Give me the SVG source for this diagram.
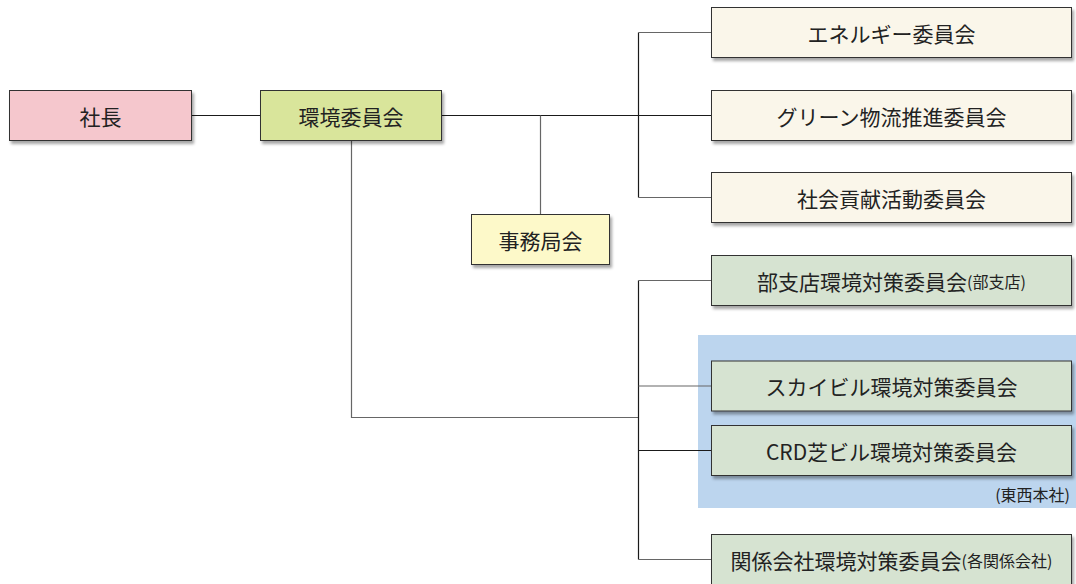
<svg xmlns="http://www.w3.org/2000/svg" width="1076" height="584" viewBox="0 0 1076 584">
<defs>
<filter id="sh" x="-10%" y="-20%" width="130%" height="160%">
<feDropShadow dx="2" dy="3" stdDeviation="1.6" flood-color="#000" flood-opacity="0.35"/>
</filter>
<style>
.box{stroke:#333;stroke-width:1;filter:url(#sh)}
.t{font-family:"Noto Sans CJK JP","Noto Sans CJK SC",sans-serif;font-size:21px;fill:#222;text-anchor:middle;dominant-baseline:central}
.s{font-size:16px}
.dk{stroke:#1a1a1a;stroke-width:1.2;fill:none}
.gr{stroke:#666;stroke-width:1.2;fill:none}
</style>
</defs>
<rect width="1076" height="584" fill="#fff"/>
<rect id="honsha-bg" x="698" y="335" width="378" height="173" fill="#BCD5EE"/>
<g id="connectors">
<path class="dk" d="M191.5 115.5H260.5"/>
<path class="dk" d="M441.5 115.5H711.5"/>
<path class="gr" d="M540.5 115.5V214.5"/>
<path class="dk" d="M638.5 32.5V197.5"/>
<path class="gr" d="M638.5 32.5H711.5"/>
<path class="gr" d="M638.5 197.5H711.5"/>
<path class="gr" d="M351.5 140.5V417.5H638.5"/>
<path class="dk" d="M638.5 280.5V559.5"/>
<path class="gr" d="M638.5 280.5H711.5"/>
<path class="gr" d="M638.5 386H711.5"/>
<path class="dk" d="M638.5 450.5H711.5"/>
<path class="gr" d="M638.5 559.5H711.5"/>
</g>
<g id="shacho"><rect class="box" x="9.5" y="90.5" width="182" height="50" fill="#F5C7CD"/><text class="t" x="100.5" y="115.5">社長</text></g>
<g id="kankyo"><rect class="box" x="260.5" y="90.5" width="181" height="50" fill="#D9E59B"/><text class="t" x="351" y="115.5">環境委員会</text></g>
<g id="jimukyoku"><rect class="box" x="471.5" y="214.5" width="138" height="50" fill="#FDF9C9"/><text class="t" x="540.5" y="239.5">事務局会</text></g>
<g id="energy"><rect class="box" x="711.5" y="7.5" width="360" height="50" fill="#FAF6EA"/><text class="t" x="891.5" y="32.5">エネルギー委員会</text></g>
<g id="green"><rect class="box" x="711.5" y="90.5" width="360" height="50" fill="#FAF6EA"/><text class="t" x="891.5" y="115.5">グリーン物流推進委員会</text></g>
<g id="shakai"><rect class="box" x="711.5" y="172.5" width="360" height="50" fill="#FAF6EA"/><text class="t" x="891.5" y="197.5">社会貢献活動委員会</text></g>
<g id="bushiten"><rect class="box" x="711.5" y="255.5" width="360" height="50" fill="#D6E3D1"/><text class="t" x="891.5" y="280.5">部支店環境対策委員会<tspan class="s">(部支店)</tspan></text></g>
<g id="sky"><rect class="box" x="711.5" y="361" width="360" height="50" fill="#D6E3D1"/><text class="t" x="891.5" y="386">スカイビル環境対策委員会</text></g>
<g id="crd"><rect class="box" x="711.5" y="425.5" width="360" height="50" fill="#D6E3D1"/><text class="t" x="891.5" y="450.5">CRD芝ビル環境対策委員会</text></g>
<text id="tozai" class="t s" x="1070" y="494" style="text-anchor:end">(東西本社)</text>
<g id="kankei"><rect class="box" x="711.5" y="534.5" width="360" height="50" fill="#D6E3D1"/><text class="t" x="891.5" y="559.5">関係会社環境対策委員会<tspan class="s">(各関係会社)</tspan></text></g>
</svg>
